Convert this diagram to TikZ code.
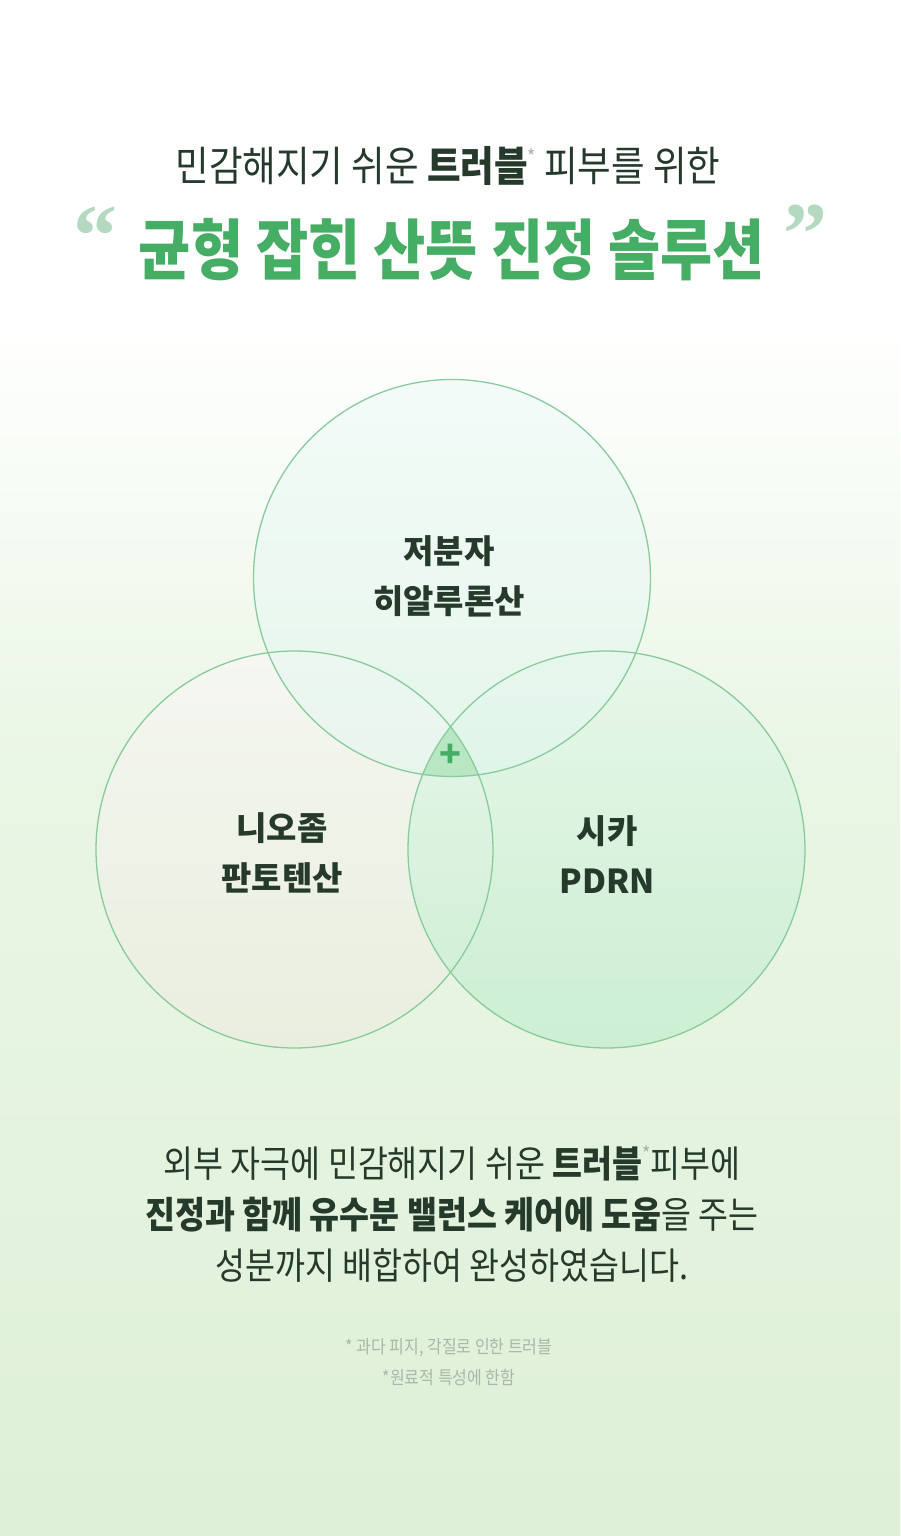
\documentclass[tikz,border=0pt]{standalone}
\usepackage{fontspec}
\usepackage{graphicx}
\setmainfont{Noto Sans CJK KR}
\newfontfamily\quotefont{Liberation Serif}
\usetikzlibrary{positioning}
\definecolor{ink}{HTML}{263A2C}
\definecolor{leaf}{HTML}{45AD64}
\definecolor{quotegreen}{HTML}{B3DAC0}
\definecolor{rim}{HTML}{88CB9C}
\definecolor{note}{HTML}{A9B8A9}
\definecolor{star}{HTML}{A4B2A4}
\definecolor{bgmid}{HTML}{EAF6E5}
\definecolor{bgend}{HTML}{DEF0D7}
\definecolor{core}{HTML}{B9E7C3}
\definecolor{niotop}{HTML}{F7F7F3}
\definecolor{niobot}{HTML}{EBEDDF}
\definecolor{cicatop}{HTML}{E6F7EA}
\definecolor{cicabot}{HTML}{C6EED0}
\definecolor{hyatop}{HTML}{EEFAF7}
\definecolor{hyabot}{HTML}{E2F6EF}
\newcommand*{\narrow}[1]{\scalebox{0.88}[1]{#1}}
\newcommand*{\supstar}{\raisebox{0.42em}{\fontsize{20}{20}\selectfont\color{star}*}}

\begin{document}
\begin{tikzpicture}[x=1pt, y=-1pt,
  label/.style={inner sep=0pt, align=center, text=ink, font=\fontsize{33}{50}\selectfont\bfseries},
  ring/.style={draw=rim, line width=1.3pt}]
\useasboundingbox (0,0) rectangle (900,1536);
\fill[white] (0,0) rectangle (900,320);
\shade[top color=white, bottom color=bgmid] (0,320) rectangle (900,760);
\shade[top color=bgmid, bottom color=bgend] (0,760) rectangle (900,1536);

\node (head) [inner sep=0pt, text=ink, font=\fontsize{41.5}{41.5}\selectfont] at (448,166)
  {\narrow{민감해지기 쉬운 \textbf{트러블}\supstar\ 피부를 위한}};
\node (title) [inner sep=0pt, text=leaf, font=\fontsize{66}{66}\selectfont\bfseries] at (452,250)
  {\scalebox{0.86}[1]{균형 잡힌 산뜻 진정 솔루션}};
\node (lq) [inner sep=0pt, text=quotegreen, font=\fontsize{88}{88}\selectfont\quotefont\bfseries] at (95,236) {“};
\node (rq) [inner sep=0pt, text=quotegreen, font=\fontsize{88}{88}\selectfont\quotefont\bfseries] at (805,234) {”};

\coordinate (top) at (452,578);
\coordinate (lft) at (294.5,849.5);
\coordinate (rgt) at (606.5,849.5);
\shade[top color=niotop, bottom color=niobot, fill opacity=0.8] (lft) circle (198.5);
\shade[top color=cicatop, bottom color=cicabot, fill opacity=0.8] (rgt) circle (198.5);
\shade[top color=hyatop, bottom color=hyabot, fill opacity=0.6] (top) circle (198.5);
\begin{scope}
  \clip (top) circle (198.5);
  \clip (lft) circle (198.5);
  \fill[core] (rgt) circle (198.5);
\end{scope}
\draw[ring] (top) circle (198.5);
\draw[ring] (lft) circle (198.5);
\draw[ring] (rgt) circle (198.5);

\node (plus) [inner sep=0pt, text=leaf, font=\fontsize{36}{36}\selectfont\bfseries] at (450,756) {+};
\node (hya) [label] at (449,576) {저분자\\히알루론산};
\node (nio) [label] at (282,853) {니오좀\\판토텐산};
\node (cica) [label] at (607,855) {시카\\PDRN};

\node (body) [inner sep=0pt, align=center, text=ink, font=\fontsize{37}{51}\selectfont] at (452,1214)
  {\narrow{외부 자극에 민감해지기 쉬운 \textbf{트러블}\supstar 피부에}\\
   \narrow{\textbf{진정과 함께 유수분 밸런스 케어에 도움}을 주는}\\
   \narrow{성분까지 배합하여 완성하였습니다.}};
\node (fn1) [inner sep=0pt, text=note, font=\fontsize{18.2}{18.2}\selectfont] at (449,1348)
  {\narrow{* 과다 피지, 각질로 인한 트러블}};
\node (fn2) [inner sep=0pt, text=note, font=\fontsize{18.2}{18.2}\selectfont, below=12pt of fn1] {\narrow{*원료적 특성에 한함}};
\end{tikzpicture}
\end{document}
